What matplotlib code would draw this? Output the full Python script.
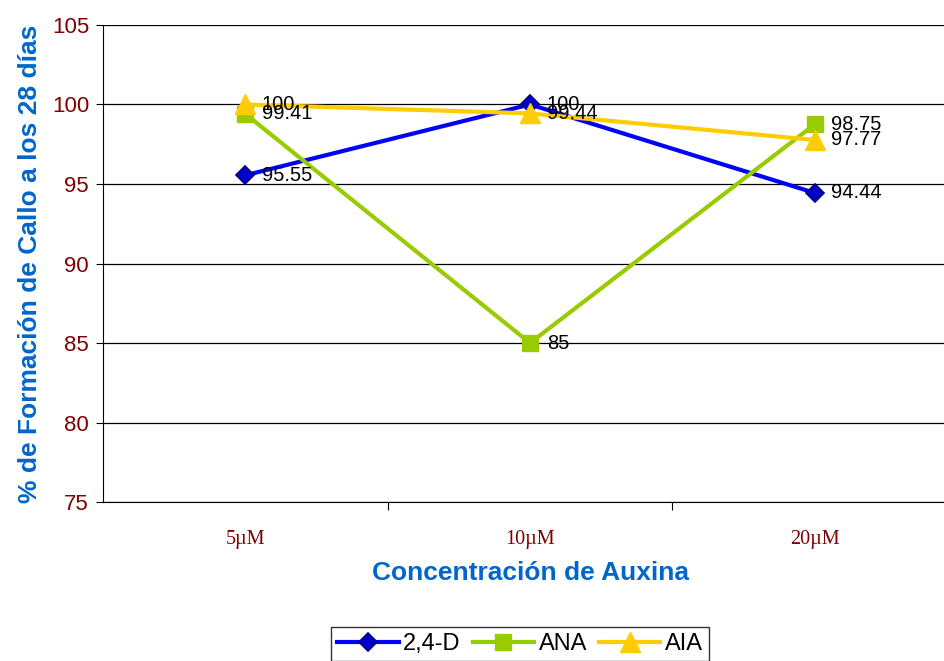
import matplotlib
matplotlib.use("Agg")
import matplotlib.pyplot as plt

plt.rcParams['font.family'] = ['Liberation Sans', 'DejaVu Sans']

# datos: % de formación de callo a los 28 días
concentraciones = ['5µM', '10µM', '20µM']
d24 = [95.55, 100, 94.44]
ana = [99.41, 85, 98.75]
aia = [100, 99.44, 97.77]

fig = plt.figure(figsize=(9.44, 6.61), dpi=100)
ax = fig.add_axes([0.1091, 0.2405, 0.9047, 0.7217])

x = range(len(concentraciones))
ax.plot(x, d24, color='#0000FF', lw=3, marker='D', ms=9,
        mfc='#0000CC', mec='#000080', mew=1.2, label='2,4-D', zorder=3)
ax.plot(x, ana, color='#99CC00', lw=3, marker='s', ms=11,
        mfc='#99CC00', mec='#99CC00', label='ANA', zorder=3)
ax.plot(x, aia, color='#FFCC00', lw=3, marker='^', ms=14,
        mfc='#FFCC00', mec='#FFCC00', label='AIA', zorder=4)

# etiquetas de valores
for serie in (d24, ana, aia):
    for i, v in enumerate(serie):
        ax.annotate(f'{v:g}', (i, v), xytext=(12, 0), textcoords='offset points',
                    ha='left', va='center', fontsize=14.5, color='black', zorder=5)

ax.set_xlim(-0.5, 2.5)
ax.set_ylim(75, 105)
ax.set_yticks(range(75, 106, 5))
ax.yaxis.grid(True, color='black', lw=0.9)
ax.set_axisbelow(True)

ax.set_xticks([0.5, 1.5])
ax.set_xticklabels([])
ax.tick_params(axis='x', length=6, direction='out', color='black')
for i, c in enumerate(concentraciones):
    ax.text(i, -0.078, c, transform=ax.get_xaxis_transform(), ha='center', va='center',
            fontsize=14.5, family='Liberation Serif', color='#800000')

ax.tick_params(axis='y', length=5, direction='out', pad=5, labelsize=16, labelcolor='#800000')
ax.spines['top'].set_visible(False)
ax.spines['right'].set_visible(False)

ax.set_xlabel('Concentración de Auxina', fontsize=19, fontweight='bold',
              color='#0066CC', labelpad=33)
ax.set_ylabel('% de Formación de Callo a los 28 días', fontsize=19,
              fontweight='bold', color='#0066CC', labelpad=7)

leg = fig.legend(loc='upper center', bbox_to_anchor=(0.551, 0.0514), ncol=3,
                 fontsize=17, frameon=True, fancybox=False, handlelength=2.6,
                 columnspacing=0.5, handletextpad=0.2, borderpad=0.25,
                 borderaxespad=0)
leg.get_frame().set_edgecolor('black')
leg.get_frame().set_linewidth(1)

fig.savefig('out.png', dpi=100)
